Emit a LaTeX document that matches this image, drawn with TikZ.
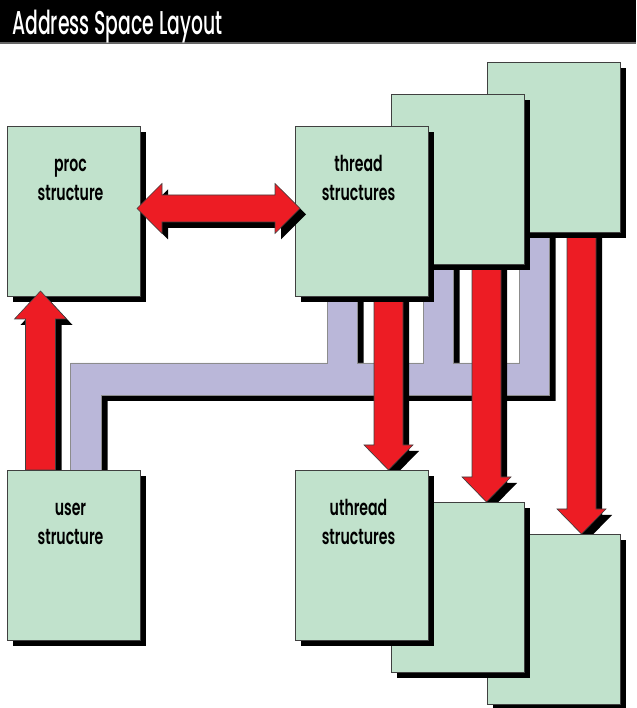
\documentclass[tikz,border=0pt]{standalone}
\usepackage{fontspec}
\IfFontExistsTF{Poppins SemiBold}
  {\setmainfont{Poppins SemiBold}[FakeStretch=0.64]}
  {\setmainfont{Poppins}[FakeStretch=0.62, UprightFont=*, UprightFeatures={FakeBold=1.2}]}
\IfFontExistsTF{Poppins Medium}
  {\newfontfamily\titlefont{Poppins Medium}[FakeStretch=0.57]}
  {\newfontfamily\titlefont{Poppins}[FakeStretch=0.57]}
\usetikzlibrary{positioning, calc, shadows}
\definecolor{boxgreen}{RGB}{193,226,204}
\definecolor{buslilac}{RGB}{186,183,217}
\definecolor{arrowred}{RGB}{237,28,36}
\pgfdeclarelayer{bg}
\pgfdeclarelayer{fg}
\pgfsetlayers{bg,main,fg}
% fat red arrow pointing down, from #1 to tip #2
\newcommand{\downfat}[2]{%
  \path[fat] let \p1=#1, \p2=#2 in
    (\x1-14.5pt,\y1) -- (\x1+14.5pt,\y1) -- (\x1+14.5pt,\y2+25pt)
    -- (\x1+24.5pt,\y2+25pt) -- (\x1,\y2) -- (\x1-24.5pt,\y2+25pt)
    -- (\x1-14.5pt,\y2+25pt) -- cycle;}

\begin{document}
\begin{tikzpicture}[x=1pt, y=1pt,
  sh/.style={drop shadow={shadow xshift=6pt, shadow yshift=-6pt,
             opacity=1, fill=black}},
  box/.style={sh, draw=black!75, fill=boxgreen, line width=0.8pt,
              minimum width=133pt, minimum height=170pt,
              inner sep=0pt, outer sep=0pt},
  lbl/.style={font=\fontsize{22}{29}\selectfont, align=center,
              anchor=base, inner sep=0pt},
  fat/.style={sh, draw=black!75, fill=arrowred, line width=0.6pt},
  bus/.style={sh, draw=black!45, fill=buslilac, line width=0.6pt}]
\useasboundingbox (0,0) rectangle (636,708);
% title bar
\fill[black] (0,666) rectangle (636,708);
\draw[black!60, line width=2pt] (0,665) -- (636,665);
\node[anchor=base west, text=white, inner sep=0pt,
      font=\titlefont\fontsize{33}{36}\selectfont] (title) at (12,673)
  {Address Space Layout};
% boxes, back to front
\node[box] (proc) at (73.5,497) {};
\begin{pgfonlayer}{fg}
\node[box, below=174pt of proc] (user) {};
\node[lbl] (userlbl) at ($(user.north)+(-3,-75)$) {user\\structure};
\end{pgfonlayer}
\node[box, right=347pt of proc, yshift=64pt] (threadc) {};
\node[box, right=251pt of proc, yshift=32pt] (threadb) {};
\node[box, right=155pt of proc] (thread) {};
\node[box, right=347pt of user, yshift=-64pt] (uthreadc) {};
\node[box, right=251pt of user, yshift=-32pt] (uthreadb) {};
\node[box, right=155pt of user] (uthread) {};
\node[lbl] (proclbl) at ($(proc.north)+(-3,-75)$) {proc\\structure};
\node[lbl] (threadlbl) at ($(thread.north)+(-3,-75)$) {thread\\structures};
\node[lbl] (uthreadlbl) at ($(uthread.north)+(-3,-75)$) {uthread\\structures};
% bus and down arrows behind the boxes
\begin{pgfonlayer}{bg}
\path[bus] let \p1=(user.north), \p2=(thread.south), \p3=(threadb.south),
    \p4=(threadc.south) in
  (\x1-3pt,\y1) -- (\x1-3pt,\y1+107pt) -- (\x2-34pt,\y1+107pt)
  -- (\x2-34pt,\y2+10pt) -- (\x2-4pt,\y2+10pt) -- (\x2-4pt,\y1+107pt)
  -- (\x3-34pt,\y1+107pt) -- (\x3-34pt,\y3+10pt) -- (\x3-4pt,\y3+10pt)
  -- (\x3-4pt,\y1+107pt) -- (\x4-34pt,\y1+107pt) -- (\x4-34pt,\y4+10pt)
  -- (\x4-4pt,\y4+10pt) -- (\x4-4pt,\y1+75pt) -- (\x1+28pt,\y1+75pt)
  -- (\x1+28pt,\y1) -- cycle;
\downfat{($(thread.south)+(27,10)$)}{($(uthread.north)+(27,0)$)}
\downfat{($(threadb.south)+(29,10)$)}{($(uthreadb.north)+(29,0)$)}
\downfat{($(threadc.south)+(28,10)$)}{($(uthreadc.north)+(28,0)$)}
\end{pgfonlayer}
% arrows on top
\path[fat] let \p1=($(proc.east)+(-3,2.5)$), \p2=($(thread.west)+(5,2.5)$) in
  (\x1,\y1) -- (\x1+25pt,\y1+25pt) -- (\x1+25pt,\y1+13.5pt)
  -- (\x2-25pt,\y1+13.5pt) -- (\x2-25pt,\y1+25pt) -- (\x2,\y1)
  -- (\x2-25pt,\y1-25pt) -- (\x2-25pt,\y1-13.5pt) -- (\x1+25pt,\y1-13.5pt)
  -- (\x1+25pt,\y1-25pt) -- cycle;
\path[fat] let \p1=($(user.north)+(-33,0)$), \p2=($(proc.south)+(-33,5)$) in
  (\x1-15pt,\y1) -- (\x1-15pt,\y2-28pt) -- (\x1-26pt,\y2-28pt) -- (\x2,\y2)
  -- (\x1+26pt,\y2-28pt) -- (\x1+15pt,\y2-28pt) -- (\x1+15pt,\y1) -- cycle;
\end{tikzpicture}
\end{document}
